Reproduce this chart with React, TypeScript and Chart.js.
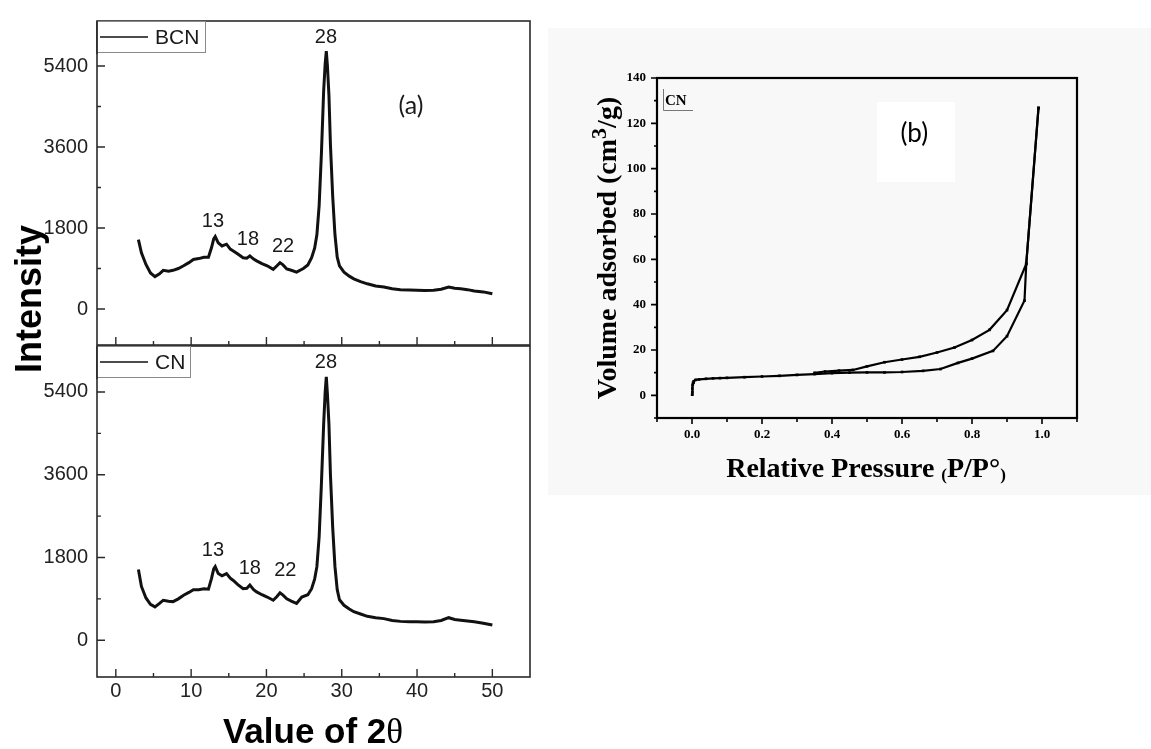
import React, { useEffect, useRef } from 'react';
import { Chart, registerables } from 'chart.js';

Chart.register(...registerables);

// ---------- XRD data (a) ----------
const XRD_2THETA_BCN = [3.0, 3.4, 4.0, 4.6, 5.2, 5.8, 6.3, 7.0, 7.6, 8.3, 9.0, 9.7, 10.3, 11.0, 11.7, 12.3, 12.7, 13.0, 13.2, 13.6, 14.1, 14.7, 15.2, 15.6, 16.2, 16.9, 17.4, 17.8, 18.3, 18.7, 19.4, 20.1, 20.9, 21.4, 21.8, 22.2, 22.7, 23.3, 24.0, 24.9, 25.5, 26.0, 26.4, 26.7, 27.0, 27.3, 27.6, 27.8, 27.95, 28.1, 28.3, 28.5, 28.8, 29.1, 29.4, 29.7, 30.3, 31.0, 31.6, 32.5, 33.4, 34.5, 35.6, 36.7, 37.8, 39.0, 40.0, 41.0, 42.2, 43.2, 44.2, 45.0, 45.8, 46.7, 47.6, 48.8, 50.0];
const XRD_INTENSITY_BCN = [1540, 1250, 990, 800, 720, 780, 860, 840, 860, 900, 960, 1030, 1100, 1120, 1150, 1150, 1360, 1560, 1610, 1470, 1400, 1440, 1330, 1290, 1220, 1140, 1130, 1180, 1110, 1070, 1010, 960, 880, 960, 1030, 980, 890, 860, 820, 900, 980, 1140, 1350, 1650, 2300, 3450, 4850, 5450, 5730, 5400, 4750, 3650, 2500, 1650, 1150, 960, 820, 730, 670, 610, 560, 510, 490, 450, 430, 420, 415, 410, 415, 440, 490, 460, 450, 430, 400, 380, 340];

const XRD_2THETA_CN = [3.0, 3.4, 4.0, 4.6, 5.2, 5.8, 6.3, 7.0, 7.6, 8.3, 9.0, 9.7, 10.3, 11.0, 11.7, 12.3, 12.7, 13.0, 13.2, 13.6, 14.1, 14.7, 15.2, 15.6, 16.2, 16.9, 17.4, 17.8, 18.3, 18.7, 19.4, 20.1, 20.9, 21.4, 21.8, 22.2, 22.7, 23.3, 24.0, 24.7, 25.5, 26.0, 26.4, 26.7, 27.0, 27.3, 27.6, 27.8, 27.95, 28.1, 28.3, 28.5, 28.8, 29.1, 29.4, 29.7, 30.3, 31.0, 31.6, 32.5, 33.4, 34.5, 35.6, 36.7, 37.8, 39.0, 40.0, 41.0, 42.2, 43.2, 44.2, 45.0, 45.8, 46.7, 47.6, 48.8, 50.0];
const XRD_INTENSITY_CN = [1540, 1170, 920, 780, 725, 800, 870, 850, 840, 900, 980, 1040, 1100, 1100, 1120, 1110, 1340, 1550, 1600, 1450, 1400, 1450, 1350, 1300, 1210, 1120, 1130, 1200, 1100, 1050, 990, 940, 870, 950, 1030, 980, 900, 850, 800, 940, 990, 1120, 1330, 1600, 2250, 3400, 4700, 5400, 5730, 5350, 4700, 3600, 2450, 1600, 1100, 880, 760, 680, 620, 570, 520, 490, 470, 430, 410, 400, 400, 395, 400, 430, 490, 450, 435, 420, 400, 370, 330];

const XRD_X_TICKS = [0, 10, 20, 30, 40, 50];
const XRD_X_MINOR = [5, 15, 25, 35, 45];
const XRD_Y_TICKS = [0, 1800, 3600, 5400];
const XRD_Y_MINOR = [900, 2700, 4500, 6300];

// peak annotations: [text, 2theta, intensity]
const PEAKS_BCN: [string, number, number][] = [['13', 12.9, 1940], ['18', 17.55, 1550], ['22', 22.2, 1390], ['28', 27.9, 6040], ['(a)', 39.2, 4510]];
const PEAKS_CN: [string, number, number][] = [['13', 12.9, 1960], ['18', 17.8, 1550], ['22', 22.5, 1520], ['28', 27.9, 6040]];

// ---------- N2 isotherm data (b) ----------
const BET_P_ADS = [0.0005, 0.001, 0.001, 0.002, 0.003, 0.005, 0.01, 0.02, 0.04, 0.06, 0.08, 0.1, 0.15, 0.2, 0.25, 0.3, 0.35, 0.4, 0.45, 0.5, 0.55, 0.6, 0.66, 0.71, 0.76, 0.8, 0.86, 0.9, 0.95, 0.955, 0.99];
const BET_V_ADS = [0.3, 1.5, 3.0, 4.5, 5.5, 6.2, 6.8, 7.0, 7.3, 7.5, 7.6, 7.7, 8.0, 8.3, 8.6, 9.0, 9.4, 9.8, 10.0, 10.1, 10.1, 10.3, 10.8, 11.6, 14.3, 16.2, 19.6, 26.1, 41.8, 58.0, 126.8];
const BET_P_DES = [0.99, 0.955, 0.9, 0.85, 0.8, 0.75, 0.7, 0.65, 0.6, 0.55, 0.5, 0.46, 0.42, 0.38, 0.35];
const BET_V_DES = [126.8, 58.0, 37.6, 28.9, 24.4, 21.1, 18.9, 17.0, 15.8, 14.6, 12.8, 11.2, 10.9, 10.5, 9.9];

const BET_X_TICKS = [0, 0.2, 0.4, 0.6, 0.8, 1.0];
const BET_X_MINOR = [-0.1, 0.1, 0.3, 0.5, 0.7, 0.9, 1.1];
const BET_Y_TICKS = [0, 20, 40, 60, 80, 100, 120, 140];
const BET_Y_MINOR = [-10, 10, 30, 50, 70, 90, 110, 130];

const W = 1151;
const H = 749;

const SANS = '"Liberation Sans", Arial, sans-serif';
const SERIF = '"Liberation Serif", "Times New Roman", serif';

const toPts = (xs: number[], ys: number[]) => xs.map((x, i) => ({ x, y: ys[i] }));

function drawTickSet(ctx: CanvasRenderingContext2D, scale: any, values: number[], len: number, inward: boolean, area: any) {
  ctx.beginPath();
  values.forEach((v) => {
    const p = scale.getPixelForValue(v);
    if (scale.axis === 'x') {
      const y0 = area.bottom;
      ctx.moveTo(p, y0);
      ctx.lineTo(p, inward ? y0 - len : y0 + len);
    } else {
      const x0 = area.left;
      ctx.moveTo(x0, p);
      ctx.lineTo(inward ? x0 + len : x0 - len, p);
    }
  });
  ctx.stroke();
}

function xrdDecor(id: string, peaks: [string, number, number][], legend: { text: string; boxRight: number }) {
  return {
    id,
    afterDatasetsDraw(chart: any) {
      const { ctx, chartArea: a, scales } = chart;
      ctx.save();
      ctx.strokeStyle = '#2a2a2a';
      ctx.lineWidth = 1.6;
      ctx.strokeRect(a.left, a.top, a.right - a.left, a.bottom - a.top);
      ctx.lineWidth = 1.4;
      drawTickSet(ctx, scales.y, XRD_Y_TICKS, 8, true, a);
      drawTickSet(ctx, scales.y, XRD_Y_MINOR, 4, true, a);
      drawTickSet(ctx, scales.x, XRD_X_TICKS, 8, true, a);
      drawTickSet(ctx, scales.x, XRD_X_MINOR, 4, true, a);
      // legend box
      const lb = { x: a.left, y: a.top, w: legend.boxRight - a.left, h: 31 };
      ctx.fillStyle = '#fff';
      ctx.fillRect(lb.x + 1, lb.y, lb.w - 1, lb.h);
      ctx.strokeStyle = '#8a8a8a';
      ctx.lineWidth = 1;
      ctx.strokeRect(lb.x + 0.5, lb.y + 0.5, lb.w, lb.h);
      ctx.strokeStyle = '#2a2a2a';
      ctx.lineWidth = 1.6;
      ctx.beginPath();
      ctx.moveTo(a.left, a.top);
      ctx.lineTo(a.left, a.top + lb.h + 2);
      ctx.stroke();
      ctx.strokeStyle = '#111';
      ctx.lineWidth = 1.5;
      ctx.beginPath();
      ctx.moveTo(a.left + 3, a.top + 16);
      ctx.lineTo(a.left + 51, a.top + 16);
      ctx.stroke();
      ctx.fillStyle = '#1a1a1a';
      ctx.font = '21px ' + SANS;
      ctx.textAlign = 'left';
      ctx.textBaseline = 'middle';
      ctx.fillText(legend.text, a.left + 58, a.top + 17);
      // peak labels
      ctx.textAlign = 'center';
      peaks.forEach(([t, x, y]) => {
        const px = scales.x.getPixelForValue(x);
        const py = scales.y.getPixelForValue(y);
        ctx.font = t === '(a)' ? '25px Lato, "Open Sans", sans-serif' : '20px ' + SANS;
        ctx.fillText(t, px, py);
      });
      ctx.restore();
    },
  };
}

const titlePlugin = {
  id: 'pageTitles',
  afterDraw(chart: any) {
    const ctx = chart.ctx as CanvasRenderingContext2D;
    ctx.save();
    ctx.fillStyle = '#000';
    // Intensity
    ctx.save();
    ctx.translate(41, 299);
    ctx.rotate(-Math.PI / 2);
    ctx.font = 'bold 36px ' + SANS;
    ctx.textAlign = 'center';
    ctx.textBaseline = 'alphabetic';
    ctx.fillText('Intensity', 0, 0);
    ctx.restore();
    // Value of 2θ
    const sans = 'bold 35px ' + SANS;
    const serif = '35px "Liberation Serif", "DejaVu Serif", serif';
    ctx.font = sans;
    const w1 = ctx.measureText('Value of 2').width;
    ctx.font = serif;
    const w2 = ctx.measureText('θ').width;
    const x = 313 - (w1 + w2) / 2;
    ctx.textAlign = 'left';
    ctx.textBaseline = 'alphabetic';
    ctx.font = sans;
    ctx.fillText('Value of 2', x, 743);
    ctx.font = serif;
    ctx.fillText('θ', x + w1, 743);
    ctx.restore();
  },
};

const betDecor = {
  id: 'betDecor',
  afterDatasetsDraw(chart: any) {
    const { ctx, chartArea: a, scales } = chart;
    ctx.save();
    ctx.strokeStyle = '#000';
    ctx.lineWidth = 2.2;
    ctx.strokeRect(a.left, a.top, a.right - a.left, a.bottom - a.top);
    ctx.lineWidth = 1.6;
    drawTickSet(ctx, scales.y, BET_Y_TICKS, 6, false, a);
    drawTickSet(ctx, scales.y, BET_Y_MINOR, 3, false, a);
    drawTickSet(ctx, scales.x, BET_X_TICKS, 6, false, a);
    drawTickSet(ctx, scales.x, BET_X_MINOR, 4, false, a);
    // legend
    ctx.strokeStyle = '#777';
    ctx.lineWidth = 1;
    ctx.beginPath();
    ctx.moveTo(a.left + 6.5, a.top + 11);
    ctx.lineTo(a.left + 6.5, a.top + 32.5);
    ctx.lineTo(a.left + 36, a.top + 32.5);
    ctx.stroke();
    ctx.fillStyle = '#000';
    ctx.font = 'bold 15px ' + SERIF;
    ctx.textAlign = 'left';
    ctx.textBaseline = 'middle';
    ctx.fillText('CN', a.left + 8, a.top + 23);
    // (b)
    ctx.font = '26px Lato, "Open Sans", sans-serif';
    ctx.textAlign = 'center';
    ctx.fillText('(b)', scales.x.getPixelForValue(0.635), scales.y.getPixelForValue(115.4));
    // axis titles
    const big = 'bold 28px ' + SERIF;
    const small = 'bold 17px ' + SERIF;
    const sup = 'bold 22px ' + SERIF;
    // y title
    ctx.save();
    ctx.translate(616, 248);
    ctx.rotate(-Math.PI / 2);
    ctx.textAlign = 'left';
    ctx.textBaseline = 'alphabetic';
    ctx.font = big;
    const t1 = 'Volume adsorbed (cm';
    const t3 = '/g)';
    const w1 = ctx.measureText(t1).width;
    const w3 = ctx.measureText(t3).width;
    ctx.font = sup;
    const w2 = ctx.measureText('3').width;
    const sx = -(w1 + w2 + w3) / 2;
    ctx.font = big;
    ctx.fillText(t1, sx, 0);
    ctx.font = sup;
    ctx.fillText('3', sx + w1, -10);
    ctx.font = big;
    ctx.fillText(t3, sx + w1 + w2, 0);
    ctx.restore();
    // x title
    const parts: [string, string, number][] = [['Relative Pressure ', big, 0], ['(', small, 3], ['P/P°', big, 0], [')', small, 3]];
    let total = 0;
    parts.forEach(([t, f]) => { ctx.font = f; total += ctx.measureText(t).width; });
    let px = 866 - total / 2;
    ctx.textAlign = 'left';
    ctx.textBaseline = 'alphabetic';
    parts.forEach(([t, f, dy]) => {
      ctx.font = f;
      ctx.fillText(t, px, 477 + dy);
      px += ctx.measureText(t).width;
    });
    ctx.restore();
  },
};

function xrdConfig(xs: number[], ys: number[], top: number, bottom: number, showXLabels: boolean, plugins: any[]) {
  const xAxisH = showXLabels ? 40 : 0;
  return {
    type: 'line' as const,
    data: {
      datasets: [
        {
          data: toPts(xs, ys),
          borderColor: '#111',
          borderWidth: 3,
          pointRadius: 0,
          tension: 0,
          fill: false,
        },
      ],
    },
    options: {
      animation: false as const,
      responsive: false,
      maintainAspectRatio: false,
      events: [],
      layout: { padding: { left: 97 - 60, top, right: W - 530, bottom: H - bottom - xAxisH } },
      plugins: { legend: { display: false }, tooltip: { enabled: false }, title: { display: false } },
      scales: {
        x: {
          type: 'linear' as const,
          min: -2.5,
          max: 55,
          grid: { display: false, drawTicks: false },
          border: { display: false },
          afterBuildTicks: (s: any) => { s.ticks = XRD_X_TICKS.map((v) => ({ value: v })); },
          ticks: {
            display: showXLabels,
            font: { family: SANS, size: 20 },
            color: '#222',
            padding: 2,
            maxRotation: 0,
            autoSkip: false,
            callback: (v: any) => String(v),
          },
          afterFit: (s: any) => { s.height = xAxisH; },
        },
        y: {
          type: 'linear' as const,
          min: -800,
          max: 6400,
          grid: { display: false, drawTicks: false },
          border: { display: false },
          afterBuildTicks: (s: any) => { s.ticks = XRD_Y_TICKS.map((v) => ({ value: v })); },
          ticks: {
            font: { family: SANS, size: 20 },
            color: '#222',
            padding: 9,
            autoSkip: false,
            callback: (v: any) => String(v),
          },
          afterFit: (s: any) => { s.width = 60; },
        },
      },
    },
    plugins,
  };
}

function betConfig() {
  const L = 657, T = 78, R = 1077, B = 418;
  const yW = 60, xH = 30;
  const ds = (xs: number[], ys: number[]) => ({
    data: toPts(xs, ys),
    borderColor: '#000',
    backgroundColor: '#000',
    borderWidth: 2.2,
    pointRadius: 1.9,
    pointStyle: 'rect' as const,
    pointBorderWidth: 0,
    tension: 0,
    fill: false,
  });
  return {
    type: 'line' as const,
    data: { datasets: [ds(BET_P_ADS, BET_V_ADS), ds(BET_P_DES, BET_V_DES)] },
    options: {
      animation: false as const,
      responsive: false,
      maintainAspectRatio: false,
      events: [],
      layout: { padding: { left: L - yW, top: T, right: W - R, bottom: H - B - xH } },
      plugins: { legend: { display: false }, tooltip: { enabled: false } },
      scales: {
        x: {
          type: 'linear' as const,
          min: -0.1,
          max: 1.1,
          grid: { display: false, drawTicks: false },
          border: { display: false },
          afterBuildTicks: (s: any) => { s.ticks = BET_X_TICKS.map((v) => ({ value: v })); },
          ticks: {
            font: { family: SERIF, size: 13, weight: 'bold' as const },
            color: '#000',
            padding: 9,
            maxRotation: 0,
            autoSkip: false,
            callback: (v: any) => Number(v).toFixed(1),
          },
          afterFit: (s: any) => { s.height = xH; },
        },
        y: {
          type: 'linear' as const,
          min: -10,
          max: 140,
          grid: { display: false, drawTicks: false },
          border: { display: false },
          afterBuildTicks: (s: any) => { s.ticks = BET_Y_TICKS.map((v) => ({ value: v })); },
          ticks: {
            font: { family: SERIF, size: 13, weight: 'bold' as const },
            color: '#000',
            padding: 11,
            autoSkip: false,
            callback: (v: any) => String(v),
          },
          afterFit: (s: any) => { s.width = yW; },
        },
      },
    },
    plugins: [betDecor],
  };
}

export default function App() {
  const c1 = useRef<HTMLCanvasElement>(null);
  const c2 = useRef<HTMLCanvasElement>(null);
  const c3 = useRef<HTMLCanvasElement>(null);

  useEffect(() => {
    document.body.style.margin = '0';
    const charts: Chart[] = [];
    if (c1.current) {
      charts.push(new Chart(c1.current, xrdConfig(XRD_2THETA_BCN, XRD_INTENSITY_BCN, 14, 345, false,
        [xrdDecor('decorBCN', PEAKS_BCN, { text: 'BCN', boxRight: 205 })]) as any));
    }
    if (c2.current) {
      charts.push(new Chart(c2.current, xrdConfig(XRD_2THETA_CN, XRD_INTENSITY_CN, 346, 677, true,
        [xrdDecor('decorCN', PEAKS_CN, { text: 'CN', boxRight: 190 }), titlePlugin]) as any));
    }
    if (c3.current) {
      charts.push(new Chart(c3.current, betConfig() as any));
    }
    return () => charts.forEach((c) => c.destroy());
  }, []);

  const cs: React.CSSProperties = { position: 'absolute', left: 0, top: 0, width: W, height: H };
  return (
    <div style={{ position: 'relative', width: W, height: H, background: '#fff', overflow: 'hidden' }}>
      <div style={{ position: 'absolute', left: 548, top: 28, width: W - 548, height: 467, background: '#f8f8f8' }} />
      <div style={{ position: 'absolute', left: 877, top: 102, width: 78, height: 80, background: '#ffffff' }} />
      <canvas ref={c1} width={W} height={H} style={cs} />
      <canvas ref={c2} width={W} height={H} style={cs} />
      <canvas ref={c3} width={W} height={H} style={cs} />
    </div>
  );
}
